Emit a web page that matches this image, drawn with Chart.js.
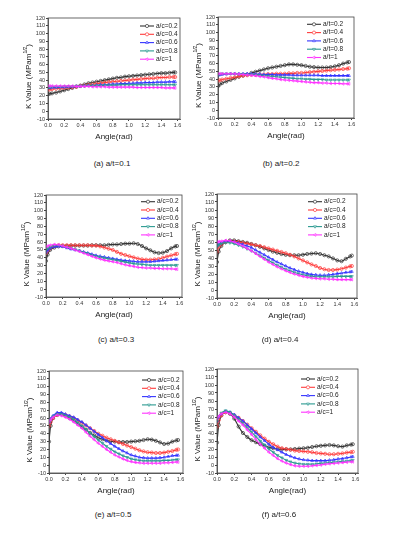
<!DOCTYPE html>
<html>
<head>
<meta charset="utf-8">
<script src="https://cdn.jsdelivr.net/npm/chart.js@4.4.1/dist/chart.umd.min.js"></script>
<style>
  html, body { margin: 0; padding: 0; background: #fff; }
  body { width: 393px; height: 534px; position: relative; overflow: hidden; font-family: "Liberation Sans", Arial, sans-serif; }
  canvas { position: absolute; }
  .cap { position: absolute; width: 120px; height: 12px; line-height: 12px; font-size: 8px; color: #222; text-align: center; }
</style>
</head>
<body>
<script>
// angle (rad) sample points
const angles = [0, 0.02, 0.05, 0.1, 0.15, 0.2, 0.25, 0.3, 0.35, 0.4, 0.45, 0.5, 0.55, 0.6, 0.65, 0.7, 0.75, 0.8, 0.85, 0.9, 0.95, 1.0, 1.05, 1.1, 1.15, 1.2, 1.25, 1.3, 1.35, 1.4, 1.45, 1.5, 1.55, 1.57];

const acLabels = ['a/c=0.2', 'a/c=0.4', 'a/c=0.6', 'a/c=0.8', 'a/c=1'];
const acLabelsB = ['a/t=0.2', 'a/t=0.4', 'a/t=0.6', 'a/t=0.8', 'a/t=1'];
const captions = ['(a) a/t=0.1', '(b) a/t=0.2', '(c) a/t=0.3', '(d) a/t=0.4', '(e) a/t=0.5', '(f) a/t=0.6'];
const xTicks = [0, 0.2, 0.4, 0.6, 0.8, 1.0, 1.2, 1.4, 1.6];
const yTicks = [-10, 0, 10, 20, 30, 40, 50, 60, 70, 80, 90, 100, 110, 120];

// (a) a/t=0.1
const at01_ac02 = [22,22.5,23,24,25.5,27,28.5,30,31.5,33,34.5,36,37,38,39,40,41,42,43,43.5,44.5,45,45.5,46,46.5,47,47.5,48,48.5,49,49,49.5,50,50];
const at01_ac04 = [28,28,28.5,29,29.5,30,30.5,31,31.5,32.5,33,34,34.5,35.5,36,37,37.5,38,38.5,39,39.5,40,40.5,41,41.5,42,42.5,42.5,43,43.5,43.5,44,44,44];
const at01_ac06 = [30,30,30.5,30.5,31,31,31.5,31.5,32,32,32.5,33,33,33.5,34,34,34.5,35,35,35.5,35.5,36,36,36.5,36.5,37,37,37,37.5,37.5,37.5,38,38,38];
const at01_ac08 = [31,31,31.5,31.5,31.5,32,32,32,32.5,32.5,32.5,33,33,33,33,33.5,33.5,33.5,33.5,34,34,34,34,34,34,34,34,34,34,34,34,34,34,34];
const at01_ac10 = [32.5,32.5,32.5,32.5,32.5,32.5,32.5,32.5,32,32,32,32,31.5,31.5,31.5,31.5,31,31,31,31,31,31,31,30.5,30.5,30.5,30.5,30.5,30.5,30.5,30,30,30,30];

// (b) a/t=0.2
const at02_ac02 = [31,33,35,37,39,41,43,44.5,46,48,49.5,51,52.5,54,55,56,57,58,59,59,58.5,58,57,56,55.5,55,55,55,55.5,56.5,58,60,61.5,62];
const at02_ac04 = [38,38.5,39.5,40.5,41.5,42.5,43.5,44.5,45,45.5,45.5,46,46,46.5,46.5,47,47,47,47.5,47.5,48,48,48.5,49,49.5,50,50.5,51,51.5,52,52.5,53,53.5,54];
const at02_ac06 = [45,45.5,46,46.5,47,47,47,47,47,47,46.5,46.5,46,46,46,45.5,45.5,45.5,45.5,45,45,45,45,45,45,45,44.5,44.5,44.5,44.5,44.5,44.5,44.5,44.5];
const at02_ac08 = [46,46.5,47,47,47,47,46.5,46.5,46,46,45.5,45,44.5,44,43.5,43,42.5,42,41.5,41,40.5,40.5,40,40,39.5,39.5,39.5,39,39,39,39,39,39,39];
const at02_ac10 = [47,47,47,47,47,47,46.5,46,45.5,45,44.5,43.5,43,42,41,40.5,39.5,39,38.5,38,37.5,37,36.5,36,35.5,35.5,35,35,34.5,34.5,34.5,34,34,34];

// (c) a/t=0.3
const at03_ac02 = [36,44,50,53,54.5,55,55,55.5,55.5,55.5,55.5,55.5,56,56,56,56,56.5,57,57,57.5,58,58,58.5,57.5,55,52,49.5,47,46,46.5,48.5,52,54.5,55];
const at03_ac04 = [46,49,52,55,56,56,56,56,56,56,56,56,55.5,55.5,54.5,53,51.5,50,47.5,45,43.5,42,40.5,39,38,37.5,37.5,38,38.5,40,41.5,43,44.5,45];
const at03_ac06 = [47,49.5,52,54,54.5,54,52.5,51,50,49,47.5,46,44.5,43,42,41,40,39,38,37,36.5,36,35.5,35,35,35,35,35.5,36,36.5,37,37.5,38,38];
const at03_ac08 = [50,52,54,56,56,55,53.5,52,50.5,49,47,45.5,43.5,42,40.5,39.5,38.5,37.5,36.5,35.5,34.5,33.5,32.5,32,31.5,31,30.5,30.5,30.5,30.5,30.5,30.5,30.5,30.5];
const at03_ac10 = [54,55,56,57,56.5,55,53.5,52,50,48,46,44,42,40,38.5,37,36,35,34,32.5,31,30,29,28,27.5,27,27,26.5,26.5,26,26,26,25.5,25.5];

// (d) a/t=0.4
const at04_ac02 = [35,48,55,60,62,62,61,60,59,57.5,56,54,52,50,48,46.5,45,44,43.5,43.5,43.5,44,45,45.5,46,45,43.5,42,39.5,37,36,39,42,43];
const at04_ac04 = [48,54,57,60,61,60.5,60,59,58,57,56,55,53.5,52,50.5,49,47.5,46,44,42,39.5,37,34.5,32,30,27.5,26,25,25,25.5,26.5,28,29.5,30];
const at04_ac06 = [55,57,59,61,61,60,58.5,57,55,53,50,47,44,41,38,35,32.5,30,27.5,25.5,23.5,22,20.5,19.5,19,18.5,18.5,19,19.5,20.5,21,22,22.5,23];
const at04_ac08 = [55,56.5,58,59,59,58,56,54,51.5,49,46,43,40,37,34,31,28.5,26,24,22,20.5,19,18,17,16.5,16.5,16.5,16.5,16.5,17,17,17,17,17];
const at04_ac10 = [60,60.5,61,62,61.5,60,57.5,55,52,49,45.5,42,38.5,35,32,29,26.5,24,22,20,18.5,17,16,15,14.5,14,14,13.5,13.5,13,13,13,13,13];

// (e) a/t=0.5
const at05_ac02 = [30,50,60,64,65,63,60,57,53,49,45,41,38,35,33,31.5,30.5,30,29.5,29.5,29.5,30,30.5,31,32,33,32.5,31,29,27,27.5,30,31.5,32];
const at05_ac04 = [50,55,60,64,65,64,62,60,57,54,50.5,47,43.5,40,37.5,35,33,31,29,27,25,23,21,19,17.5,16.5,16,15.5,15.5,16,17,18,19.5,20];
const at05_ac06 = [55,59,63,67,67,65,63,61,58,55,51,47,43,39,35,31,27.5,24,21,18,15.5,13,11.5,10,9.5,9,9,9,9.5,10,11,12,12.5,12.5];
const at05_ac08 = [55,58,62,65,65,63,61,58,54,50,45.5,41,36.5,32,28,24,20.5,17,14.5,12,10,8,7,6,5.5,5.5,5.5,5.5,5.5,6,6,6.5,7,7];
const at05_ac10 = [55,58,61,64,63,61,58.5,55,51,47,42,37,32.5,28,24,20,16.5,13,10.5,8,6,4.5,3.5,3,2.5,2.5,2.5,2.5,2.5,3,3,3.5,4,4];

// (f) a/t=0.6
const at06_ac02 = [28,50,62,66,64,58,48,40,35,31,28.5,26,24,22,21,20,19.5,19.5,19.5,20,20.5,21,21.5,22.5,23.5,24,24.5,25,24.5,23.5,23,24.5,25.5,26];
const at06_ac04 = [48,56,62,66,65,62,59,55,50.5,46,41.5,37,33,29,26,23,21,20,19,18,17.5,17,16.5,16,15,14.5,14,13.5,13.5,14,14.5,15.5,16,16.5];
const at06_ac06 = [55,60,64,67,66,63,59,55,50,45,40,35,30.5,26,22,19,16,13,11,9,7.5,6.5,6,5.5,5.5,5.5,5.5,6,6.5,7.5,8,9,10,10.5];
const at06_ac08 = [55,61,65,68,66,62,57,52,46.5,41,35.5,30,25,20,16,12,9,6,4,2.5,1.5,1,1,1,1.5,2,2.5,3,3.5,4,4.5,5,5.5,6];
const at06_ac10 = [58,61,64,66,64,60,55,50,44,38,32,26,21,16,12,8,5,2.5,0.5,-1,-1.5,-1.5,-1.5,-1,-0.5,0,1,1.5,2,2.5,3,3.5,4,4];

const panelSeries = [
  [at01_ac02, at01_ac04, at01_ac06, at01_ac08, at01_ac10],
  [at02_ac02, at02_ac04, at02_ac06, at02_ac08, at02_ac10],
  [at03_ac02, at03_ac04, at03_ac06, at03_ac08, at03_ac10],
  [at04_ac02, at04_ac04, at04_ac06, at04_ac08, at04_ac10],
  [at05_ac02, at05_ac04, at05_ac06, at05_ac08, at05_ac10],
  [at06_ac02, at06_ac04, at06_ac06, at06_ac08, at06_ac10]
];
const panelLabels = [acLabels, acLabelsB, acLabels, acLabels, acLabels, acLabels];

// plot frame [left, top, right, bottom] in page px, caption centre, legend offset from right/top
const panelBoxes = [
  { plot: [48, 18, 180, 119], cap: [112, 164], leg: [40, 8] },
  { plot: [218, 17, 354, 118], cap: [281, 164], leg: [47, 7.3] },
  { plot: [46, 195, 182, 297], cap: [116, 340], leg: [41, 6.7] },
  { plot: [217, 194, 357, 298], cap: [280, 340], leg: [49, 7.7] },
  { plot: [49, 371, 183, 473], cap: [113, 515], leg: [41, 9] },
  { plot: [217, 369, 358, 473], cap: [279, 515], leg: [57, 10] }
];

const colors = ['#333333', '#ff3b3b', '#3434ff', '#2a9990', '#ff33ff'];
const markers = [
  { style: 'circle', rot: 0 },
  { style: 'circle', rot: 0 },
  { style: 'triangle', rot: 0 },
  { style: 'triangle', rot: 180 },
  { style: 'triangle', rot: 270 }
];

const FONT = '"Liberation Sans", Arial, sans-serif';
Chart.defaults.font.family = FONT;
Chart.defaults.color = '#222';

const framePlugin = {
  id: 'frame',
  afterDraw(chart) {
    const { ctx, chartArea: a } = chart;
    ctx.save();
    ctx.strokeStyle = '#444';
    ctx.lineWidth = 0.8;
    ctx.strokeRect(a.left, a.top, a.right - a.left, a.bottom - a.top);
    ctx.restore();
  }
};

// y title with the 1/2 superscript
const yTitlePlugin = {
  id: 'yTitle',
  afterDraw(chart) {
    const { ctx, chartArea: a } = chart;
    const big = '8px ' + FONT, small = '5px ' + FONT;
    ctx.save();
    ctx.translate(a.left - 19, (a.top + a.bottom) / 2 + 8);
    ctx.rotate(-Math.PI / 2);
    ctx.fillStyle = '#222';
    ctx.textBaseline = 'middle';
    ctx.font = big;
    const w1 = ctx.measureText('K Value (MPam').width;
    const w3 = ctx.measureText(')').width;
    ctx.font = small;
    const w2 = ctx.measureText('1/2').width;
    let x = -(w1 + w2 + w3) / 2;
    ctx.font = big;
    ctx.fillText('K Value (MPam', x, 0);
    x += w1;
    ctx.font = small;
    ctx.fillText('1/2', x, -3);
    x += w2;
    ctx.font = big;
    ctx.fillText(')', x, 0);
    ctx.restore();
  }
};

const legendPlugin = {
  id: 'legendInPlot',
  afterDatasetsDraw(chart, args, opts) {
    const { ctx, chartArea: a } = chart;
    const x0 = a.right - opts.dx;
    ctx.save();
    ctx.font = '6.5px ' + FONT;
    ctx.textBaseline = 'middle';
    chart.data.datasets.forEach((ds, i) => {
      const y = a.top + opts.dy + i * 8.3;
      ctx.strokeStyle = ds.borderColor;
      ctx.lineWidth = 1.1;
      ctx.beginPath();
      ctx.moveTo(x0, y);
      ctx.lineTo(x0 + 14, y);
      ctx.stroke();
      ctx.fillStyle = '#fff';
      ctx.lineWidth = 0.7;
      Chart.helpers.drawPoint(ctx, { pointStyle: ds.pointStyle, radius: 1.6, rotation: ds.pointRotation, borderWidth: 0.7 }, x0 + 7, y);
      ctx.fillStyle = '#222';
      ctx.fillText(ds.label, x0 + 16, y);
    });
    ctx.restore();
  }
};

panelBoxes.forEach((box, p) => {
  const [L, T, R, B] = box.plot;
  const left = L - 30, top = T - 8;
  const canvas = document.createElement('canvas');
  canvas.width = R - L + 36;
  canvas.height = B - T + 31;
  canvas.style.left = left + 'px';
  canvas.style.top = top + 'px';
  document.body.appendChild(canvas);

  const cap = document.createElement('div');
  cap.className = 'cap';
  cap.style.left = (box.cap[0] - 60) + 'px';
  cap.style.top = (box.cap[1] - 6) + 'px';
  cap.textContent = captions[p];
  document.body.appendChild(cap);

  const datasets = panelSeries[p].map((vals, i) => ({
    label: panelLabels[p][i],
    data: angles.map((a, k) => ({ x: a, y: vals[k] })),
    borderColor: colors[i],
    borderWidth: 1.1,
    pointStyle: markers[i].style,
    pointRotation: markers[i].rot,
    pointRadius: 1.6,
    pointBorderWidth: 0.7,
    pointBorderColor: colors[i],
    pointBackgroundColor: 'rgba(255,255,255,0)',
    cubicInterpolationMode: 'monotone',
    order: 5 - i
  }));

  new Chart(canvas, {
    type: 'line',
    data: { datasets },
    options: {
      responsive: false,
      animation: false,
      layout: { padding: { top: 8, right: 6, left: 0, bottom: 0 } },
      plugins: {
        legend: { display: false },
        tooltip: { enabled: false },
        legendInPlot: { dx: box.leg[0], dy: box.leg[1] }
      },
      scales: {
        x: {
          type: 'linear',
          min: 0,
          max: 1.63,
          afterBuildTicks: s => { s.ticks = xTicks.map(v => ({ value: v })); },
          afterFit: s => { s.height = 23; },
          ticks: { font: { size: 5.5 }, color: '#333', padding: 1, maxRotation: 0, autoSkip: false, callback: v => v.toFixed(1) },
          grid: { drawOnChartArea: false, tickLength: 2, color: '#444' },
          border: { color: '#444', width: 0.8 },
          title: { display: true, text: 'Angle(rad)', font: { size: 8 }, color: '#222', padding: { top: 0, bottom: 0 } }
        },
        y: {
          min: -10,
          max: 120,
          afterBuildTicks: s => { s.ticks = yTicks.map(v => ({ value: v })); },
          afterFit: s => { s.width = 30; },
          ticks: { font: { size: 5.5 }, color: '#333', padding: 1, autoSkip: false },
          grid: { drawOnChartArea: false, tickLength: 2, color: '#444' },
          border: { color: '#444', width: 0.8 }
        }
      }
    },
    plugins: [framePlugin, yTitlePlugin, legendPlugin]
  });
});
</script>
</body>
</html>
